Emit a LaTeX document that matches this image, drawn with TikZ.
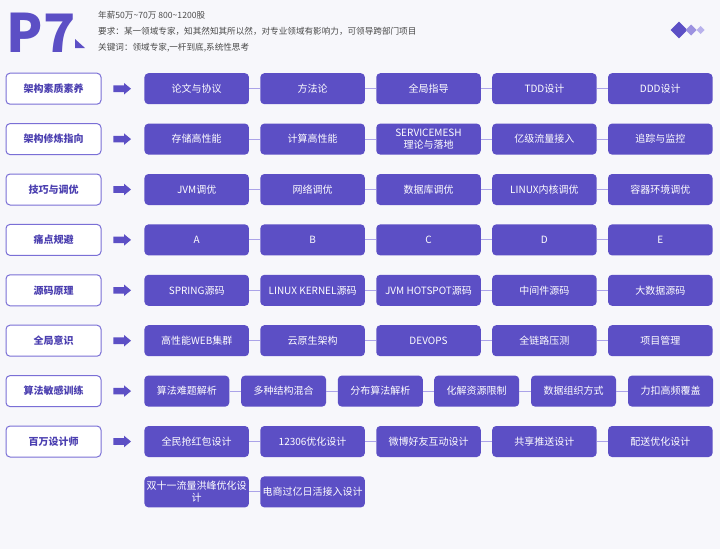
\documentclass[tikz,border=0pt]{standalone}
\usepackage{fontspec}
\setmainfont{Noto Sans CJK SC}
\usetikzlibrary{positioning}

\definecolor{bgcol}{HTML}{F7F7FB}
\definecolor{mainpurple}{HTML}{5C4FC5}
\definecolor{catline}{HTML}{7A6FD6}
\definecolor{cattext}{HTML}{4B3FB0}
\definecolor{linkpurple}{HTML}{ABA3E8}
\definecolor{midpurple}{HTML}{9C92E0}
\definecolor{lightpurple}{HTML}{B9B2EC}
\definecolor{headtext}{HTML}{4A4A4A}

\tikzset{
  catbox/.style={draw=catline, line width=1pt, fill=white, rounded corners=4pt,
    minimum width=95pt, minimum height=31pt, text=cattext,
    font=\fontsize{10}{12}\selectfont\bfseries},
  itembox/.style={fill=mainpurple, rounded corners=4pt, minimum width=104.5pt,
    minimum height=31pt, text=white, inner sep=1pt, align=center,
    font=\fontsize{10}{12.4}\selectfont},
  smallbox/.style={itembox, minimum width=85pt},
  link/.style={draw=linkpurple, line width=0.9pt},
  headline/.style={anchor=west, inner sep=0pt, text=headtext,
    font=\fontsize{8.6}{10}\selectfont},
  blockarr/.pic={
    \fill[mainpurple] (-8.7,-3.3) -- (2,-3.3) -- (2,-5.8) -- (9,0)
      -- (2,5.8) -- (2,3.3) -- (-8.7,3.3) -- cycle;
  }
}

\begin{document}
\begin{tikzpicture}[x=1pt, y=-1pt]

  \fill[bgcol] (0,0) rectangle (720,549);
  \useasboundingbox (0,0) rectangle (720,549);

  % header
  \node[anchor=west, inner sep=0pt, text=mainpurple,
    font=\fontsize{53}{53}\selectfont\bfseries] (title) at (6.5,32.5) {P7};
  \fill[mainpurple] (75,39) -- (75,48) -- (85,48) -- cycle;

  \node[headline] (salary) at (98,15) {年薪50万\textasciitilde 70万 800\textasciitilde 1200股};
  \node[headline] (demand) at (98,31.7) {要求：某一领域专家，知其然知其所以然，对专业领域有影响力，可领导跨部门项目};
  \node[headline] (keyword) at (98,47.7) {关键词：领域专家,一杆到底,系统性思考};

  \fill[mainpurple] (679,21.7) -- (687.3,30) -- (679,38.3) -- (670.7,30) -- cycle;
  \fill[midpurple] (691,24.5) -- (696.5,30) -- (691,35.5) -- (685.5,30) -- cycle;
  \fill[lightpurple] (700.7,26) -- (704.7,30) -- (700.7,34) -- (696.7,30) -- cycle;

  % row 1
  \node[catbox] (c1) at (53.5,88.7) {架构素质素养};
  \pic at (122,88.7) {blockarr};
  \node[itembox] (b1-1) at (196.7,88.7) {论文与协议};
  \node[itembox] (b1-2) at (312.6,88.7) {方法论};
  \node[itembox] (b1-3) at (428.5,88.7) {全局指导};
  \node[itembox] (b1-4) at (544.4,88.7) {TDD设计};
  \node[itembox] (b1-5) at (660.3,88.7) {DDD设计};
  \draw[link] (b1-1) -- (b1-2) (b1-2) -- (b1-3) (b1-3) -- (b1-4) (b1-4) -- (b1-5);

  % row 2
  \node[catbox] (c2) at (53.5,139.1) {架构修炼指向};
  \pic at (122,139.1) {blockarr};
  \node[itembox] (b2-1) at (196.7,139.1) {存储高性能};
  \node[itembox] (b2-2) at (312.6,139.1) {计算高性能};
  \node[itembox] (b2-3) at (428.5,139.1) {SERVICEMESH\\理论与落地};
  \node[itembox] (b2-4) at (544.4,139.1) {亿级流量接入};
  \node[itembox] (b2-5) at (660.3,139.1) {追踪与监控};
  \draw[link] (b2-1) -- (b2-2) (b2-2) -- (b2-3) (b2-3) -- (b2-4) (b2-4) -- (b2-5);

  % row 3
  \node[catbox] (c3) at (53.5,189.5) {技巧与调优};
  \pic at (122,189.5) {blockarr};
  \node[itembox] (b3-1) at (196.7,189.5) {JVM调优};
  \node[itembox] (b3-2) at (312.6,189.5) {网络调优};
  \node[itembox] (b3-3) at (428.5,189.5) {数据库调优};
  \node[itembox] (b3-4) at (544.4,189.5) {LINUX内核调优};
  \node[itembox] (b3-5) at (660.3,189.5) {容器环境调优};
  \draw[link] (b3-1) -- (b3-2) (b3-2) -- (b3-3) (b3-3) -- (b3-4) (b3-4) -- (b3-5);

  % row 4
  \node[catbox] (c4) at (53.5,239.9) {痛点规避};
  \pic at (122,239.9) {blockarr};
  \node[itembox] (b4-1) at (196.7,239.9) {A};
  \node[itembox] (b4-2) at (312.6,239.9) {B};
  \node[itembox] (b4-3) at (428.5,239.9) {C};
  \node[itembox] (b4-4) at (544.4,239.9) {D};
  \node[itembox] (b4-5) at (660.3,239.9) {E};
  \draw[link] (b4-1) -- (b4-2) (b4-2) -- (b4-3) (b4-3) -- (b4-4) (b4-4) -- (b4-5);

  % row 5
  \node[catbox] (c5) at (53.5,290.3) {源码原理};
  \pic at (122,290.3) {blockarr};
  \node[itembox] (b5-1) at (196.7,290.3) {SPRING源码};
  \node[itembox] (b5-2) at (312.6,290.3) {LINUX KERNEL源码};
  \node[itembox] (b5-3) at (428.5,290.3) {JVM HOTSPOT源码};
  \node[itembox] (b5-4) at (544.4,290.3) {中间件源码};
  \node[itembox] (b5-5) at (660.3,290.3) {大数据源码};
  \draw[link] (b5-1) -- (b5-2) (b5-2) -- (b5-3) (b5-3) -- (b5-4) (b5-4) -- (b5-5);

  % row 6
  \node[catbox] (c6) at (53.5,340.7) {全局意识};
  \pic at (122,340.7) {blockarr};
  \node[itembox] (b6-1) at (196.7,340.7) {高性能WEB集群};
  \node[itembox] (b6-2) at (312.6,340.7) {云原生架构};
  \node[itembox] (b6-3) at (428.5,340.7) {DEVOPS};
  \node[itembox] (b6-4) at (544.4,340.7) {全链路压测};
  \node[itembox] (b6-5) at (660.3,340.7) {项目管理};
  \draw[link] (b6-1) -- (b6-2) (b6-2) -- (b6-3) (b6-3) -- (b6-4) (b6-4) -- (b6-5);

  % row 7
  \node[catbox] (c7) at (53.5,391.1) {算法敏感训练};
  \pic at (122,391.1) {blockarr};
  \node[smallbox] (b7-1) at (186.8,391.1) {算法难题解析};
  \node[smallbox] (b7-2) at (283.6,391.1) {多种结构混合};
  \node[smallbox] (b7-3) at (380.3,391.1) {分布算法解析};
  \node[smallbox] (b7-4) at (476.7,391.1) {化解资源限制};
  \node[smallbox] (b7-5) at (573.5,391.1) {数据组织方式};
  \node[smallbox] (b7-6) at (670.5,391.1) {力扣高频覆盖};
  \draw[link] (b7-1) -- (b7-2) (b7-2) -- (b7-3) (b7-3) -- (b7-4) (b7-4) -- (b7-5) (b7-5) -- (b7-6);

  % row 8
  \node[catbox] (c8) at (53.5,441.5) {百万设计师};
  \pic at (122,441.5) {blockarr};
  \node[itembox] (b8-1) at (196.7,441.5) {全民抢红包设计};
  \node[itembox] (b8-2) at (312.6,441.5) {12306优化设计};
  \node[itembox] (b8-3) at (428.5,441.5) {微博好友互动设计};
  \node[itembox] (b8-4) at (544.4,441.5) {共享推送设计};
  \node[itembox] (b8-5) at (660.3,441.5) {配送优化设计};
  \draw[link] (b8-1) -- (b8-2) (b8-2) -- (b8-3) (b8-3) -- (b8-4) (b8-4) -- (b8-5);

  \node[itembox] (b9-1) at (196.7,491.9) {双十一流量洪峰优化设\\计};
  \node[itembox] (b9-2) at (312.6,491.9) {电商过亿日活接入设计};
  \draw[link] (b9-1) -- (b9-2);

\end{tikzpicture}
\end{document}
